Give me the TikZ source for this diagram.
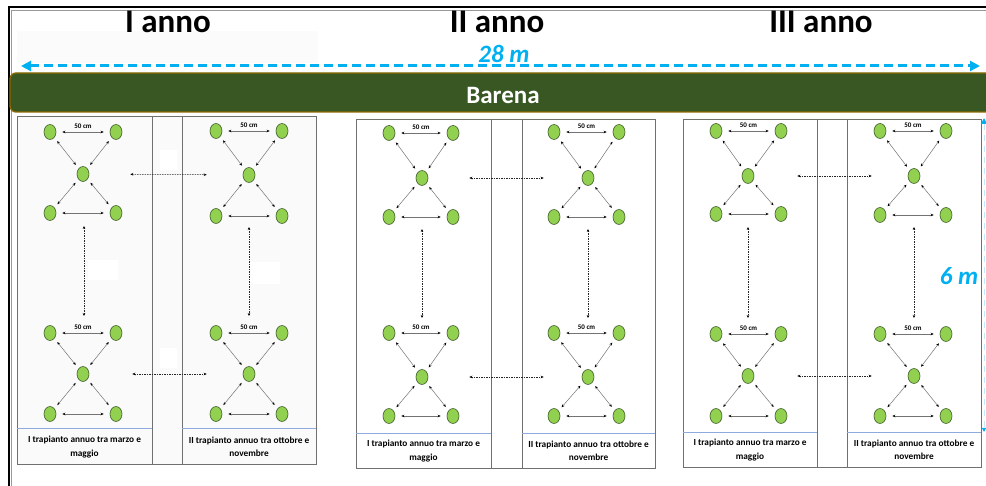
\documentclass[tikz,border=0pt]{standalone}
\usepackage{fontspec}
\setmainfont{Carlito}
\usetikzlibrary{arrows.meta,shapes.geometric}
\definecolor{skyc}{HTML}{00B0F0}
\definecolor{barg}{HTML}{385723}
\definecolor{barb}{HTML}{8C6A00}
\definecolor{plantf}{HTML}{92D050}
\definecolor{plantd}{HTML}{3E5A28}
\definecolor{framec}{HTML}{707070}
\definecolor{capc}{HTML}{8FAADC}
\tikzset{
  plant/.style={ellipse, draw=plantd, line width=0.6pt, fill=plantf, minimum width=12pt, minimum height=15pt, inner sep=0pt},
  smalltip/.tip={Stealth[length=3pt,width=2.6pt]},
  harr/.style={draw=black!55, line width=0.6pt, {smalltip[black]}-{smalltip[black]}, shorten <=6pt, shorten >=6pt},
  diarr/.style={draw=black!55, line width=0.5pt, {smalltip[black]}-{smalltip[black]}, shorten <=4.5pt, shorten >=4.5pt},
  dotarr/.style={draw=black!85, line width=0.5pt, dash pattern=on 1.5pt off 1pt, {smalltip[black]}-{smalltip[black]}},
  lbl/.style={font=\bfseries\fontsize{7}{8}\selectfont, inner sep=1pt},
  captext/.style={font=\bfseries\fontsize{9.3}{13.5}\selectfont, align=center, inner sep=0pt},
  ttl/.style={font=\bfseries\fontsize{33}{36}\selectfont, anchor=base, inner sep=0pt},
  frameln/.style={draw=framec, line width=0.8pt},
  capln/.style={draw=capc, line width=0.8pt},
}
\newcommand\pcluster[7]{%
  \node[plant] (#1tl) at (#2,#5) {};
  \node[plant] (#1tr) at (#3,#5) {};
  \node[plant] (#1c)  at (#4,#6) {};
  \node[plant] (#1bl) at (#2,#7) {};
  \node[plant] (#1br) at (#3,#7) {};
  \draw[harr] (#1tl) -- node[above=2.5pt, lbl] (#1lab) {50 cm} (#1tr);
  \draw[harr] (#1bl) -- (#1br);
  \draw[diarr] (#1tl) -- (#1c);
  \draw[diarr] (#1tr) -- (#1c);
  \draw[diarr] (#1bl) -- (#1c);
  \draw[diarr] (#1br) -- (#1c);
}
\newcommand\ppanel[8]{%
  \draw[frameln] (#2,#5) rectangle (#4,#7);
  \draw[frameln] (#3,#5) -- (#3,#7);
  \draw[frameln] (#8,#5) -- (#8,#7);
  \draw[capln] (#2,#6) -- (#3,#6);
  \draw[capln] (#8,#6) -- (#4,#6);
  \draw[frameln] (#2,#7) -- (#4,#7);
}
\begin{document}
\begin{tikzpicture}[x=1pt,y=-1pt]
\useasboundingbox (0,0) rectangle (986,486);
\begin{scope}
\clip (0,0) rectangle (986,486);
\fill[white] (0,0) rectangle (986,486);
% outer frame
\draw[black!40, line width=0.7pt] (11,487) -- (11,10) -- (990,10);
\draw[black, line width=2pt] (8.5,487) -- (8.5,7.5) -- (990,7.5);
% faint top band
\fill[black!1.5] (17,31) rectangle (318,63);
% titles
\node[ttl] (t1) at (168,33) {I anno};
\node[ttl] (t2) at (497,33) {II anno};
\node[ttl] (t3) at (821,33) {III anno};
% 28 m arrow
\coordinate (wl) at (21,66);
\coordinate (wr) at (980,66);
\draw[skyc, line width=3pt, dash pattern=on 9pt off 5pt, {Triangle[length=10pt,width=10pt]}-{Triangle[length=10pt,width=10pt]}] (wl) -- (wr);
\node[font=\bfseries\itshape\fontsize{25}{28}\selectfont, text=skyc, anchor=base, inner sep=0pt] (w28) at (504,63) {28 m};
% Barena bar
\draw[fill=barg, draw=barb, line width=1.3pt, rounded corners=6pt] (10,73) rectangle (1000,112);
\node[font=\bfseries\fontsize{25}{28}\selectfont, text=white, anchor=base, inner sep=0pt] (bar) at (503,104) {Barena};
% panel 1 background with patches
\fill[black!2] (17,116) rectangle (316,464);
\fill[white] (160,150) rectangle (177,170);
\fill[white] (160,348) rectangle (177,368);
\fill[white] (88,260) rectangle (118,280);
\fill[white] (250,262) rectangle (280,284);
% panels
\ppanel{p1}{17}{152}{316}{116}{428}{464}{182}
\ppanel{p2}{356}{491}{655}{119}{433}{468}{522}
\ppanel{p3}{683}{817}{981}{119}{432}{467}{847}
% captions
\node[captext] (c1a) at (84.5,447) {I trapianto annuo tra marzo e\\maggio};
\node[captext] (c1b) at (249,447) {II trapianto annuo tra ottobre e\\novembre};
\node[captext] (c2a) at (423.5,451) {I trapianto annuo tra marzo e\\maggio};
\node[captext] (c2b) at (588.5,451) {II trapianto annuo tra ottobre e\\novembre};
\node[captext] (c3a) at (750,450) {I trapianto annuo tra marzo e\\maggio};
\node[captext] (c3b) at (914,450) {II trapianto annuo tra ottobre e\\novembre};
% clusters panel 1
\pcluster{aLu}{50}{116}{83}{132}{174}{213}
\pcluster{aRu}{216}{282}{249}{131}{175}{216}
\pcluster{aLd}{50}{116}{83}{333}{374}{414}
\pcluster{aRd}{216}{282}{249}{333}{374}{414}
% clusters panel 2
\pcluster{bLu}{389}{453}{422}{133}{178}{217}
\pcluster{bRu}{554}{619}{588}{132}{178}{217}
\pcluster{bLd}{389}{453}{422}{333}{377}{416}
\pcluster{bRd}{554}{619}{588}{333}{377}{416}
% clusters panel 3
\pcluster{cLu}{716}{781}{748}{131}{176}{214}
\pcluster{cRu}{880}{946}{914}{131}{176}{215}
\pcluster{cLd}{716}{781}{748}{334}{376}{416}
\pcluster{cRd}{880}{946}{914}{334}{376}{416}
% horizontal dotted arrows between columns
\draw[dotarr, shorten <=41pt, shorten >=36pt] (aLuc) -- (aRuc);
\draw[dotarr, shorten <=43pt, shorten >=36pt] (aLdc) -- (aRdc);
\draw[dotarr, shorten <=41pt, shorten >=38pt] (bLuc) -- (bRuc);
\draw[dotarr, shorten <=41pt, shorten >=38pt] (bLdc) -- (bRdc);
\draw[dotarr, shorten <=43pt, shorten >=36pt] (cLuc) -- (cRuc);
\draw[dotarr, shorten <=43pt, shorten >=36pt] (cLdc) -- (cRdc);
% vertical dotted arrows between clusters
\coordinate (v1a) at (84,226); \coordinate (v1b) at (84,316);
\coordinate (v2a) at (249,227); \coordinate (v2b) at (249,316);
\coordinate (v3a) at (422,229); \coordinate (v3b) at (422,318);
\coordinate (v4a) at (588,229); \coordinate (v4b) at (588,318);
\coordinate (v5a) at (748,227); \coordinate (v5b) at (748,318);
\coordinate (v6a) at (914,227); \coordinate (v6b) at (914,318);
\draw[dotarr] (v1a) -- (v1b);
\draw[dotarr] (v2a) -- (v2b);
\draw[dotarr] (v3a) -- (v3b);
\draw[dotarr] (v4a) -- (v4b);
\draw[dotarr] (v5a) -- (v5b);
\draw[dotarr] (v6a) -- (v6b);
% 6 m
\coordinate (hu) at (984,118);
\coordinate (hd) at (984,432);
\draw[skyc!25, line width=1pt, dash pattern=on 6pt off 5pt, {Triangle[length=6pt,width=6pt,skyc]}-{Triangle[length=4pt,width=4pt,skyc]}] (hu) -- (hd);
\node[font=\bfseries\itshape\fontsize{25}{28}\selectfont, text=skyc, anchor=base, inner sep=0pt] (h6) at (959,285) {6 m};
\end{scope}
\end{tikzpicture}
\end{document}
